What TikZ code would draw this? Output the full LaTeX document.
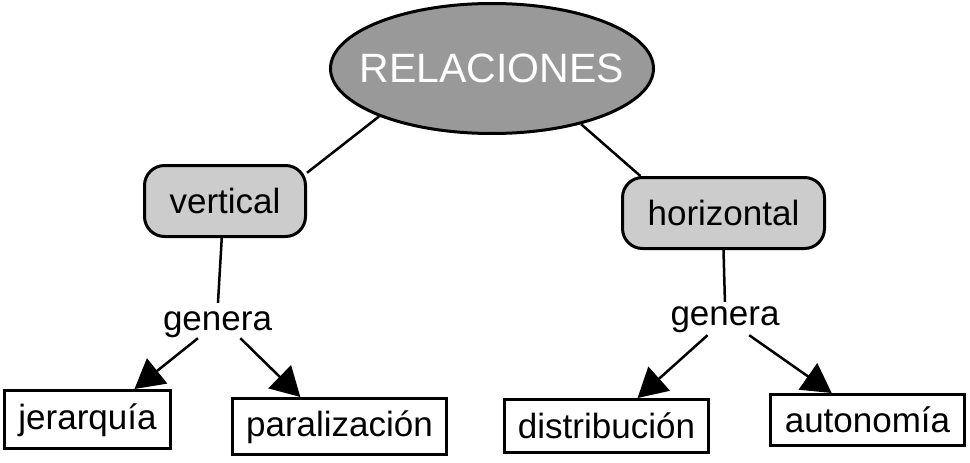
\documentclass[tikz,border=0pt]{standalone}
\usepackage{fontspec}
\setmainfont{Liberation Sans}
\usetikzlibrary{arrows.meta,shapes.geometric}
\definecolor{ellgray}{HTML}{999999}
\definecolor{boxgray}{HTML}{CCCCCC}
\begin{document}
\begin{tikzpicture}[x=1pt,y=-1pt,
  txt/.style={font=\fontsize{35}{42}\selectfont},
  conn/.style={line width=2.5pt},
  arr/.style={line width=2.5pt,-{Triangle[length=29pt,width=32pt]}},
  topnode/.style={ellipse,draw,line width=3pt,fill=ellgray,text=white,inner xsep=-40pt,inner ysep=0pt,
    font=\fontsize{41}{48}\selectfont},
  concept/.style={txt,rectangle,draw,line width=3pt,fill=boxgray,rounded corners=20pt,
    inner sep=0pt,text height=25pt,text depth=0pt},
  leaf/.style={txt,rectangle,draw,line width=3pt,fill=white,inner sep=0pt,
    text height=25pt,text depth=0pt},
  linkword/.style={txt,inner xsep=3pt,inner ysep=1pt,text height=18pt,text depth=7pt}]
\useasboundingbox (0,0) rectangle (970,463);

\node[topnode,minimum width=323pt,minimum height=130pt] (rel) at (492,68.5) {RELACIONES};

\node[concept,minimum width=161pt,minimum height=71pt] (vert) at (225,201) {vertical};
\node[concept,minimum width=202pt,minimum height=71pt] (horiz) at (723.5,213) {horizontal};

\node[linkword] (gen1) at (217.5,324.5) {genera};
\node[linkword,inner ysep=3pt] (gen2) at (725,319.5) {genera};

\node[leaf,minimum width=166pt,minimum height=58pt,text depth=5pt] (jer) at (87.5,419.5) {jerarquía};
\node[leaf,minimum width=214pt,minimum height=56pt,text depth=5pt] (par) at (339.5,426.5) {paralización};
\node[leaf,minimum width=204pt,minimum height=53pt] (dist) at (606.5,426) {distribución};
\node[leaf,minimum width=194pt,minimum height=51pt] (auto) at (867.5,420) {autonomía};

\draw[conn] (rel.203) -- (vert.19.3);
\draw[conn] (rel.-32.3) -- (horiz.156.6);

\draw[conn,shorten >=8pt] (vert.265.5) -- (gen1.north);
\draw[conn,shorten >=2pt] (horiz.south) -- (gen2.north);

\draw[arr] (gen1.215.3) -- (jer.33.8);
\draw[arr] (gen1.-31) -- (par.143.2);
\draw[arr] (gen2.222.6) -- (dist.42.6);
\draw[arr] (gen2.-33.4) -- (auto.143.3);
\end{tikzpicture}
\end{document}
